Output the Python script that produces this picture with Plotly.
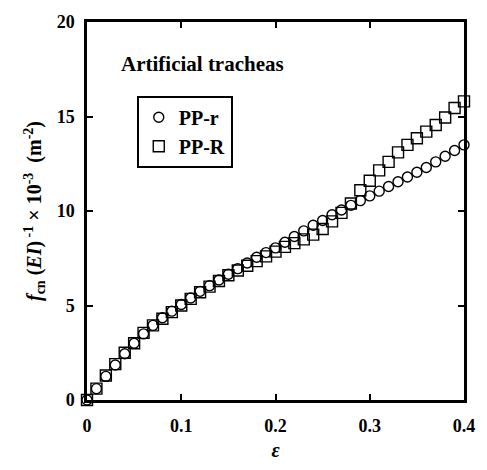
import plotly.graph_objects as go

# Strain values (dimensionless)
strain = [round(i * 0.01, 2) for i in range(41)]

# Normalised critical force f_cn (EI)^-1 x 10^-3 (m^-2)
pp_r = [0.0, 0.6, 1.25, 1.85, 2.45, 3.0, 3.5, 3.95, 4.35, 4.7,
        5.05, 5.4, 5.75, 6.05, 6.35, 6.65, 6.95, 7.25, 7.55, 7.8,
        8.05, 8.35, 8.65, 8.95, 9.25, 9.5, 9.8, 10.05, 10.3, 10.55,
        10.8, 11.05, 11.3, 11.55, 11.8, 12.05, 12.3, 12.6, 12.9, 13.2,
        13.5]
pp_R = [0.0, 0.6, 1.3, 1.9, 2.5, 3.0, 3.55, 3.95, 4.3, 4.65,
        5.0, 5.35, 5.7, 6.0, 6.3, 6.6, 6.85, 7.1, 7.35, 7.6,
        7.85, 8.1, 8.3, 8.5, 8.75, 9.05, 9.45, 9.9, 10.4, 11.1,
        11.6, 12.15, 12.6, 13.1, 13.5, 13.85, 14.2, 14.55, 14.95, 15.45,
        15.8]

x_ticks = [0, 0.1, 0.2, 0.3, 0.4]
x_tick_text = ["0", "0.1", "0.2", "0.3", "0.4"]
y_ticks = [0, 5, 10, 15, 20]
y_tick_text = ["0", "5", "10", "15", "20"]

SERIF = "Liberation Serif"

fig = go.Figure()
fig.add_trace(go.Scatter(
    x=strain, y=pp_r, mode="markers", name="PP-r", cliponaxis=False,
    marker=dict(symbol="circle-open", size=10, color="black",
                line=dict(width=1.4, color="black")),
))
fig.add_trace(go.Scatter(
    x=strain, y=pp_R, mode="markers", name="PP-R", cliponaxis=False,
    marker=dict(symbol="square-open", size=11, color="black",
                line=dict(width=1.4, color="black")),
))

axis_common = dict(
    showline=True, linecolor="black", linewidth=2.5, mirror="ticks",
    ticks="inside", ticklen=6, tickwidth=2, tickcolor="black",
    showgrid=False, zeroline=False,
    tickfont=dict(family=SERIF, size=18, color="black", weight="bold"),
)

fig.update_xaxes(
    range=[0, 0.4], tickvals=x_ticks, ticktext=x_tick_text,
    ticklabelstandoff=8,
    title=dict(text="<i>ε</i>", standoff=8,
               font=dict(family=SERIF, size=20, color="black", weight="bold")),
    **axis_common,
)
fig.update_yaxes(
    range=[0, 20], tickvals=y_ticks, ticktext=y_tick_text,
    ticklabelstandoff=6,
    title=dict(
        text="<i>f</i><sub>cn</sub> (<i>EI</i>)<sup> -1</sup> × 10<sup>-3</sup>  (m<sup>-2</sup>)",
        standoff=10,
        font=dict(family=SERIF, size=20, color="black", weight="bold")),
    **axis_common,
)

fig.add_annotation(
    text="Artificial tracheas", xref="paper", yref="paper",
    x=0.085, y=0.889, xanchor="left", yanchor="middle", showarrow=False,
    font=dict(family=SERIF, size=21, color="black", weight="bold"),
)

fig.update_layout(
    width=487, height=470,
    margin=dict(l=87, r=13, t=19, b=62),
    paper_bgcolor="white", plot_bgcolor="white",
    showlegend=True,
    legend=dict(
        x=0.132, y=0.805, xanchor="left", yanchor="top",
        bordercolor="black", borderwidth=2, bgcolor="white",
        font=dict(family=SERIF, size=20, color="black", weight="bold"),
        tracegroupgap=0, itemwidth=30,
    ),
)

fig.write_html("out.html")
